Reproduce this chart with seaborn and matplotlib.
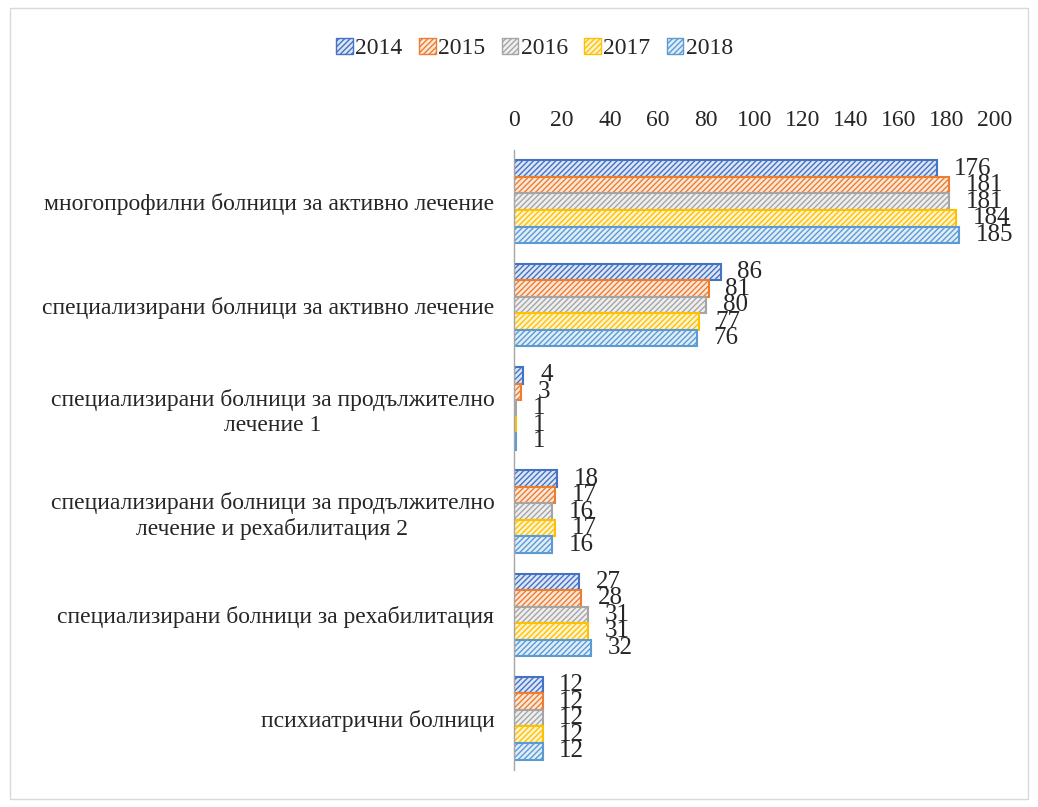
import numpy as np
import pandas as pd
import matplotlib
matplotlib.use("Agg")
import matplotlib.pyplot as plt
import matplotlib.colors as mcolors
from matplotlib.patches import Rectangle
import seaborn as sns

# категории (отгоре надолу) и стойности по години
categories = [
    "многопрофилни болници за активно лечение",
    "специализирани болници за активно лечение",
    "специализирани болници за продължително\nлечение 1",
    "специализирани болници за продължително\nлечение и рехабилитация 2",
    "специализирани болници за рехабилитация",
    "психиатрични болници",
]
years = ["2014", "2015", "2016", "2017", "2018"]
v2014 = [176, 86, 4, 18, 27, 12]
v2015 = [181, 81, 3, 17, 28, 12]
v2016 = [181, 80, 1, 16, 31, 12]
v2017 = [184, 77, 1, 17, 31, 12]
v2018 = [185, 76, 1, 16, 32, 12]
colors = ["#4472C4", "#ED7D31", "#A5A5A5", "#FFC000", "#5B9BD5"]

vals = [v2014, v2015, v2016, v2017, v2018]
df = pd.DataFrame({
    "cat": categories * len(years),
    "year": np.repeat(years, len(categories)),
    "value": np.concatenate(vals),
})

sns.set_style("white")
plt.rcParams["font.family"] = ["Liberation Serif", "DejaVu Serif"]
plt.rcParams["hatch.linewidth"] = 1.0

fig = plt.figure(figsize=(10.38, 8.07), dpi=100)
ax = fig.add_axes([0.495, 0.046, 0.4635, 0.768])

sns.barplot(data=df, y="cat", x="value", hue="year", orient="h",
            palette=colors, width=0.8, ax=ax, legend=True, saturation=1)

def tint(col, k=0.82):
    return tuple(k + (1 - k) * c for c in mcolors.to_rgba(col)[:3])

for cont, col in zip(ax.containers, colors):
    for p in cont.patches:
        p.set_facecolor(tint(col))
        p.set_edgecolor(col)
        p.set_hatch("//////")
        p.set_linewidth(1.5)
    ax.bar_label(cont, padding=12, fontsize=18,
                 labels=[str(int(v)) for v in cont.datavalues])

# легенда
handles, labels = ax.get_legend_handles_labels()
for h, col in zip(handles, colors):
    h.set_facecolor(tint(col))
    h.set_edgecolor(col)
    h.set_hatch("//////")
ax.legend_.remove()
fig.legend(handles, labels, loc="center", bbox_to_anchor=(0.515, 0.94), ncol=5,
           frameon=False, fontsize=17, handlelength=0.7, handleheight=0.7,
           handletextpad=0.1, columnspacing=0.7)

ax.set_xlim(0, 200)
ax.set_xticks(np.arange(0, 201, 20))
ax.xaxis.tick_top()
ax.tick_params(axis="x", length=0, labelsize=17, pad=14)
ax.tick_params(axis="y", length=0, labelsize=17, pad=14)
for t in ax.get_yticklabels():
    t.set_multialignment("center")
ax.set_xlabel("")
ax.set_ylabel("")
for s in ["top", "right", "bottom"]:
    ax.spines[s].set_visible(False)
ax.spines["left"].set_color("#A6A6A6")
ax.spines["left"].set_linewidth(1)

fig.patches.append(Rectangle((0.01, 0.01), 0.98, 0.98, transform=fig.transFigure,
                             fill=False, edgecolor="#D9D9D9", linewidth=1))

fig.savefig("out.png", dpi=100)
